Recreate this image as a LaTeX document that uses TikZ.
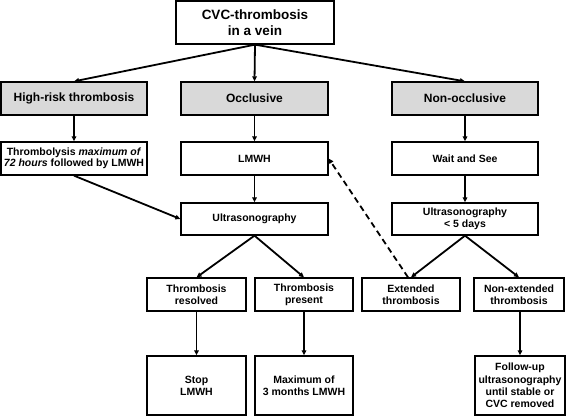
\documentclass[tikz,border=0pt]{standalone}
\usepackage{fontspec}
\setmainfont{Liberation Sans}
\usetikzlibrary{arrows.meta}
\definecolor{boxgray}{HTML}{D9D9D9}
\tikzset{
  box/.style={draw=black, line width=1.3pt, fill=white, align=center, inner sep=1pt,
    font=\bfseries\fontsize{10.5}{12.2}\selectfont},
  topbox/.style={box, font=\bfseries\fontsize{13.5}{16.5}\selectfont},
  graybox/.style={box, fill=boxgray, font=\bfseries\fontsize{12}{14}\selectfont},
  arr/.style={line width=1.8pt, -{Triangle[length=5pt,width=4.5pt]}},
  dasharr/.style={arr, dash pattern=on 6pt off 4pt}
}
\begin{document}
\begin{tikzpicture}[x=1pt, y=-1pt]
\useasboundingbox (0,0) rectangle (568,416);
% row 0
\node[topbox, minimum width=158pt, minimum height=43pt] (top) at (255,22.5) {CVC-thrombosis\\in a vein};
% row 1
\node[graybox, minimum width=146pt, minimum height=33pt] (hr) at (74,98.5) {High-risk thrombosis};
\node[graybox, minimum width=147pt, minimum height=33pt] (occ) at (254.5,98.5) {Occlusive};
\node[graybox, minimum width=146pt, minimum height=33pt] (nonocc) at (465,98.5) {Non-occlusive};
% row 2
\node[box, minimum width=146pt, minimum height=33pt, font=\bfseries\fontsize{10.5}{11.2}\selectfont] (thr) at (74,158.5) {Thrombolysis \textit{maximum of}\\\textit{72 hours} followed by LMWH};
\node[box, minimum width=147pt, minimum height=33pt] (lmwh) at (254.5,158.5) {LMWH};
\node[box, minimum width=146pt, minimum height=33pt] (wait) at (465,158.5) {Wait and See};
% row 3
\node[box, minimum width=147pt, minimum height=32pt] (us) at (254.5,219) {Ultrasonography};
\node[box, minimum width=146pt, minimum height=32pt] (us5) at (465,219) {Ultrasonography\\< 5 days};
% row 4
\node[box, minimum width=99pt, minimum height=33pt] (res) at (196.5,294.5) {Thrombosis\\resolved};
\node[box, minimum width=98pt, minimum height=33pt] (pres) at (304,294.5) {Thrombosis\\present};
\node[box, minimum width=98pt, minimum height=33pt] (ext) at (411,294.5) {Extended\\thrombosis};
\node[box, minimum width=90pt, minimum height=33pt] (nonext) at (519,294.5) {Non-extended\\thrombosis};
% row 5
\node[box, minimum width=99pt, minimum height=59pt] (stop) at (196.5,385.5) {Stop\\LMWH};
\node[box, minimum width=98pt, minimum height=59pt] (max) at (304,385.5) {Maximum of\\3 months LMWH};
\node[box, minimum width=90pt, minimum height=59pt] (fu) at (520,385.5) {Follow-up\\ultrasonography\\until stable or\\CVC removed};
% arrows
\draw[arr] (top.south) -- (hr.north);
\draw[arr] (top.south) -- (occ.north);
\draw[arr] (top.south) -- (nonocc.north);
\draw[arr] (hr.south) -- (thr.north);
\draw[arr] (occ.south) -- (lmwh.north);
\draw[arr] (nonocc.south) -- (wait.north);
\draw[arr] (lmwh.south) -- (us.north);
\draw[arr] (wait.south) -- (us5.north);
\draw[arr] (thr.south) -- (us.west);
\draw[arr] (us.south) -- (res.north);
\draw[arr] (us.south) -- (pres.north);
\draw[arr] (us5.south) -- (ext.north);
\draw[arr] (us5.south) -- (nonext.north);
\draw[arr] (res.south) -- (stop.north);
\draw[arr] (pres.south) -- (max.north);
\draw[arr] (fu.north |- nonext.south) -- (fu.north);
\draw[dasharr] ([xshift=-3pt]ext.north) -- (lmwh.east);
\end{tikzpicture}
\end{document}
